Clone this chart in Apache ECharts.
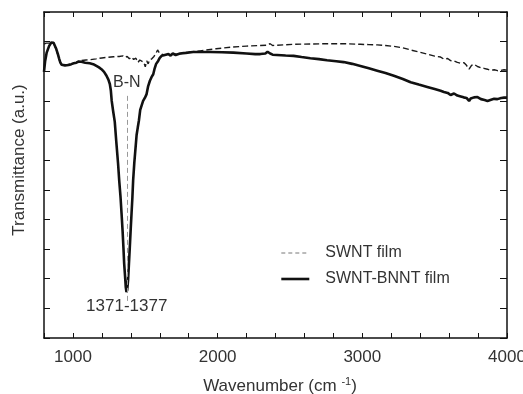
<!DOCTYPE html>
<html>
<head>
<meta charset="utf-8">
<script src="https://cdn.jsdelivr.net/npm/echarts@6/dist/echarts.min.js"></script>
<style>
  html, body { margin: 0; padding: 0; background: #fff; }
  #chart { width: 523px; height: 394px; }
</style>
</head>
<body>
<div id="chart"></div>
<script>
// [wavenumber, transmittance]
const swntFilm = [
  [800, 9.92], [815, 9.95], [835, 9.95], [850, 9.98], [858, 10.0], [866, 9.96], [873, 9.9],
  [885, 9.72], [896, 9.55], [905, 9.4], [913, 9.3], [931, 9.2], [955, 9.22], [989, 9.25],
  [1024, 9.3], [1058, 9.36], [1090, 9.38], [1116, 9.39], [1160, 9.42], [1200, 9.45],
  [1240, 9.47], [1280, 9.49], [1320, 9.5], [1345, 9.52], [1360, 9.47], [1375, 9.5],
  [1390, 9.42], [1405, 9.48], [1420, 9.4], [1435, 9.44], [1450, 9.3], [1462, 9.38],
  [1475, 9.42], [1490, 9.3], [1500, 9.15], [1510, 9.35], [1520, 9.25], [1530, 9.38],
  [1545, 9.42], [1560, 9.5], [1575, 9.62], [1585, 9.72], [1595, 9.64], [1610, 9.58],
  [1630, 9.55], [1650, 9.56], [1680, 9.57], [1710, 9.58], [1740, 9.59], [1800, 9.64],
  [1879, 9.69], [1990, 9.76], [2108, 9.82], [2200, 9.85], [2295, 9.87], [2340, 9.88],
  [2363, 9.93], [2380, 9.87], [2410, 9.88], [2525, 9.91], [2640, 9.92], [2756, 9.93],
  [2870, 9.93], [2987, 9.91], [3045, 9.9], [3103, 9.89], [3160, 9.87], [3218, 9.84],
  [3280, 9.79], [3334, 9.72], [3390, 9.65], [3449, 9.58], [3500, 9.51], [3541, 9.48],
  [3564, 9.41], [3590, 9.43], [3610, 9.36], [3634, 9.35], [3657, 9.3], [3680, 9.27],
  [3703, 9.29], [3720, 9.2], [3738, 9.07], [3755, 9.2], [3772, 9.24], [3796, 9.16],
  [3819, 9.12], [3840, 9.1], [3865, 9.07], [3888, 9.03], [3911, 9.05], [3935, 9.02],
  [3958, 9.03], [3980, 9.05], [4000, 9.04]
];

const bnntFilm = [
  [800, 8.98], [808, 9.35], [818, 9.62], [835, 9.85], [850, 9.97], [858, 9.99], [866, 9.96],
  [873, 9.91], [885, 9.75], [896, 9.58], [905, 9.42], [913, 9.29], [922, 9.22], [931, 9.18],
  [945, 9.2], [955, 9.22], [970, 9.21], [989, 9.24], [1005, 9.27], [1024, 9.29], [1040, 9.33],
  [1058, 9.32], [1085, 9.29], [1116, 9.27], [1140, 9.24], [1162, 9.18], [1180, 9.13],
  [1197, 9.07], [1215, 8.98], [1232, 8.85], [1245, 8.72], [1255, 8.57], [1262, 8.35],
  [1268, 8.0], [1278, 7.65], [1289, 7.3], [1300, 6.6], [1312, 5.88], [1320, 5.3],
  [1329, 4.75], [1336, 4.2], [1343, 3.63], [1349, 3.05], [1354, 2.52], [1360, 2.1],
  [1365, 1.72], [1370, 1.55], [1375, 1.62], [1381, 1.94], [1387, 2.5], [1393, 3.06],
  [1399, 3.65], [1405, 4.2], [1411, 4.75], [1416, 5.31], [1424, 5.9], [1433, 6.43],
  [1440, 6.85], [1448, 7.1], [1456, 7.34], [1465, 7.7], [1475, 7.85], [1485, 8.0],
  [1497, 8.1], [1509, 8.23], [1520, 8.5], [1532, 8.68], [1543, 8.8], [1555, 8.9],
  [1565, 9.1], [1575, 9.25], [1589, 9.35], [1600, 9.45], [1613, 9.52], [1625, 9.48],
  [1635, 9.55], [1648, 9.52], [1660, 9.58], [1675, 9.53], [1690, 9.6], [1710, 9.55],
  [1740, 9.6], [1780, 9.62], [1830, 9.65], [1880, 9.65], [1950, 9.65], [2030, 9.64],
  [2109, 9.63], [2200, 9.6], [2260, 9.58], [2295, 9.58], [2330, 9.6], [2345, 9.66],
  [2363, 9.6], [2380, 9.56], [2410, 9.55], [2470, 9.53], [2525, 9.52], [2580, 9.48],
  [2641, 9.44], [2700, 9.41], [2756, 9.37], [2820, 9.34], [2871, 9.31], [2930, 9.25],
  [2987, 9.18], [3045, 9.1], [3103, 9.02], [3160, 8.94], [3218, 8.85], [3280, 8.74],
  [3334, 8.63], [3390, 8.55], [3449, 8.47], [3500, 8.4], [3541, 8.34], [3564, 8.3],
  [3590, 8.27], [3610, 8.2], [3634, 8.25], [3657, 8.18], [3680, 8.15], [3700, 8.12],
  [3720, 8.1], [3738, 8.0], [3749, 8.08], [3772, 8.12], [3796, 8.13], [3820, 8.06],
  [3845, 8.03], [3865, 8.0], [3890, 8.04], [3911, 8.07], [3934, 8.06], [3960, 8.1],
  [3980, 8.11], [4000, 8.11]
];

// B-N band marker: guide line ends and label anchors
const bandLine = [[1372, 8.17], [1372, 1.25]];
const bandLabels = [
  { text: 'B-N', at: [1372, 8.61], size: 16 },
  { text: '1371-1377', at: [1372, 1.06], size: 17 }
];

const seriesNames = ['SWNT film', 'SWNT-BNNT film'];
const xRange = [800, 4000];
const yRange = [0, 11];

const font = "'Liberation Sans', Arial, sans-serif";
const ink = '#333';

const frameAxis = {
  axisLine: { show: true, onZero: false, lineStyle: { color: '#111', width: 1.5 } },
  splitLine: { show: false }
};

const chart = echarts.init(document.getElementById('chart'));

chart.setOption({
  animation: false,
  textStyle: { fontFamily: font },
  grid: { left: 44, right: 16, top: 12, bottom: 56, outerBoundsMode: 'none', containLabel: false },
  legend: {
    orient: 'vertical',
    left: 280,
    top: 245,
    padding: 0,
    itemWidth: 28,
    itemHeight: 14,
    itemGap: 10,
    itemStyle: { opacity: 0 },
    textStyle: { fontSize: 16, color: ink, fontFamily: font, padding: [0, 0, 0, 11] },
    data: [
      { name: seriesNames[0], lineStyle: { color: '#777', width: 1, type: [4, 3] } },
      { name: seriesNames[1], lineStyle: { color: '#111', width: 2.6 } }
    ]
  },
  xAxis: [
    Object.assign({
      type: 'value', position: 'bottom', min: xRange[0], max: xRange[1], interval: 200,
      axisTick: { inside: true, length: 5, lineStyle: { color: '#111' } },
      axisLabel: {
        fontSize: 17, color: ink, margin: 11, fontFamily: font,
        formatter: v => (v % 1000 === 0 ? String(v) : '')
      }
    }, frameAxis),
    Object.assign({
      type: 'value', position: 'top', min: xRange[0], max: xRange[1], interval: 200,
      axisTick: { inside: true, length: 5, lineStyle: { color: '#111' } },
      axisLabel: { show: false }
    }, frameAxis)
  ],
  yAxis: [
    Object.assign({
      type: 'value', position: 'left', min: yRange[0], max: yRange[1], interval: 1,
      axisTick: { inside: true, length: 6, lineStyle: { color: '#111' } },
      axisLabel: { show: false }
    }, frameAxis),
    Object.assign({
      type: 'value', position: 'right', min: yRange[0], max: yRange[1], interval: 1,
      axisTick: { inside: true, length: 7, lineStyle: { color: '#111' } },
      axisLabel: { show: false }
    }, frameAxis)
  ],
  series: [
    {
      name: seriesNames[0],
      type: 'line',
      data: swntFilm,
      showSymbol: false,
      symbol: 'none',
      lineStyle: { color: '#1a1a1a', width: 1.4, type: [6, 3] },
      itemStyle: { color: '#1a1a1a' }
    },
    {
      name: seriesNames[1],
      type: 'line',
      data: bnntFilm,
      showSymbol: false,
      symbol: 'none',
      lineStyle: { color: '#111', width: 2.6 },
      itemStyle: { color: '#111' },
      markLine: {
        silent: true,
        symbol: 'none',
        label: { show: false },
        lineStyle: { color: '#999', width: 1, type: [5, 3] },
        data: [[{ coord: bandLine[0] }, { coord: bandLine[1] }]]
      },
      markPoint: {
        silent: true,
        symbol: 'circle',
        symbolSize: 0,
        data: bandLabels.map(b => ({
          coord: b.at,
          label: {
            show: true, position: 'inside', formatter: b.text,
            fontSize: b.size, color: ink, fontFamily: font
          }
        }))
      }
    }
  ],
  graphic: [
    {
      type: 'text',
      x: 19, y: 160,
      rotation: Math.PI / 2,
      style: {
        text: 'Transmittance (a.u.)',
        fontSize: 17, fontFamily: font, fill: ink,
        align: 'center', verticalAlign: 'middle'
      }
    },
    {
      type: 'text',
      x: 280, y: 386,
      style: {
        text: 'Wavenumber (cm {sup|-1})',
        fontSize: 17, fontFamily: font, fill: ink,
        align: 'center', verticalAlign: 'middle',
        rich: {
          sup: { fontSize: 11, fontFamily: font, fill: ink, verticalAlign: 'top', lineHeight: 20 }
        }
      }
    }
  ]
});
</script>
</body>
</html>
